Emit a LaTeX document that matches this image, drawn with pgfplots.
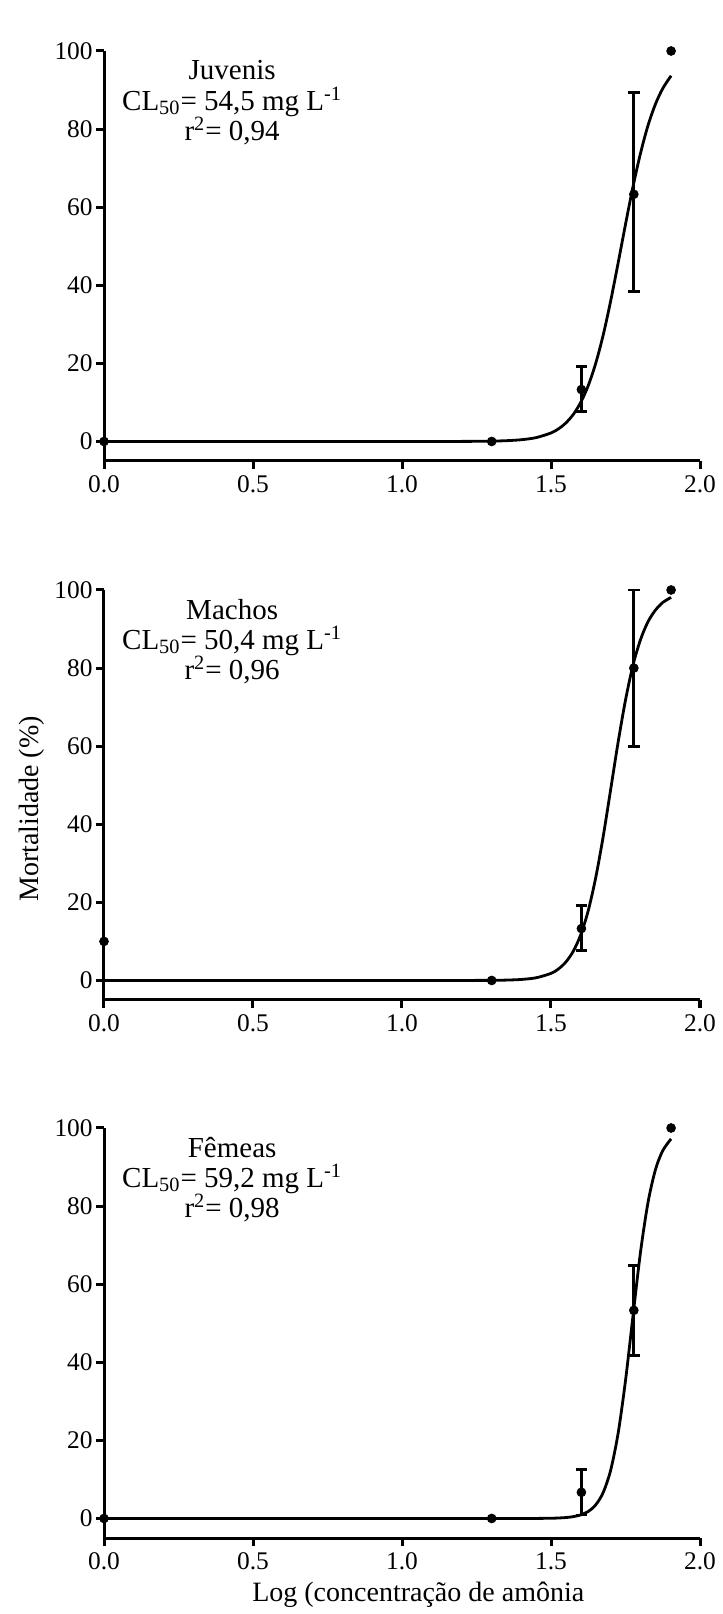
\documentclass[border=0pt]{standalone}
\usepackage{fontspec}
\setmainfont{Liberation Serif}
\usepackage{pgfplots}
\pgfplotsset{compat=1.18}

\pgfplotsset{
  myaxis/.style={
    scale only axis, width=298pt, height=205pt,
    xmin=0, xmax=2, ymin=-5, ymax=100,
    axis x line*=bottom, axis y line*=left,
    axis line style={line width=1.5pt, -},
    tick align=outside, major tick length=4pt,
    tick style={line width=1.5pt, black},
    xtick={0,0.5,1,1.5,2}, xticklabels={0.0,0.5,1.0,1.5,2.0},
    ytick={0,20,40,60,80,100}, yticklabels={0,20,40,60,80,100},
    tick label style={font=\fontsize{12.7}{14}\selectfont},
    yticklabel style={inner xsep=1.5pt},
    clip=false,
    anchor=south west,
  },
  fitline/.style={black, line width=1.4pt, smooth, no marks},
  errpts/.style={only marks, mark=*, mark size=2.2pt, black,
     error bars/.cd, y dir=both, y explicit,
     error bar style={line width=1.4pt, black},
     error mark options={rotate=90, mark size=2.9pt, line width=1.4pt, black}},
  pts/.style={only marks, mark=*, mark size=2.2pt, black},
}
\tikzset{annot/.style={font=\fontsize{14.5}{16}\selectfont}}

\begin{document}
\begin{tikzpicture}
\path[use as bounding box] (0,0) rectangle (361.5pt,807pt);

% ---------- Juvenis ----------
\begin{axis}[myaxis, at={(52pt,576.5pt)}]
\addplot[fitline] coordinates {
(0,0) (0.2,0) (0.4,0) (0.6,0) (0.8,0) (1.0,0.001) (1.1,0.004) (1.2,0.018) (1.25,0.04)
(1.3,0.089) (1.35,0.198) (1.4,0.443) (1.45,0.985) (1.5,2.18) (1.525,3.23)
(1.55,4.75) (1.575,6.94) (1.6,10.05) (1.625,14.32) (1.65,20.0) (1.675,27.2)
(1.7,35.9) (1.725,45.6) (1.75,55.6) (1.775,65.2) (1.8,73.7) (1.825,80.8)
(1.85,86.3) (1.875,90.4) (1.903,93.65)};
\addplot[pts] coordinates {(0,0) (1.301,0) (1.903,100)};
\addplot[errpts] coordinates {
(1.602,13.3) += (0,5.9) -= (0,5.7)
(1.778,63.3) += (0,26.0) -= (0,24.9)};
\node[annot] at (axis cs:0.43,95) {Juvenis};
\node[annot] at (axis cs:0.43,87) {CL\textsubscript{50}= 54,5 mg L\textsuperscript{-1}};
\node[annot] at (axis cs:0.43,79.5) {r\textsuperscript{2}= 0,94};
\end{axis}

% ---------- Machos ----------
\begin{axis}[myaxis, at={(52pt,307pt)},
  ylabel={Mortalidade (\%)},
  ylabel style={at={(axis description cs:-0.121,0.466)}, anchor=center, font=\fontsize{14}{16}\selectfont}]
\addplot[fitline] coordinates {
(0,0) (0.2,0) (0.4,0) (0.6,0) (0.8,0) (1.0,0.001) (1.1,0.004) (1.2,0.01) (1.25,0.02)
(1.3,0.036) (1.35,0.097) (1.4,0.259) (1.45,0.69) (1.5,1.82) (1.525,2.95)
(1.55,4.74) (1.575,7.52) (1.6,11.75) (1.625,17.9) (1.65,26.3) (1.675,36.8)
(1.7,48.8) (1.725,60.9) (1.75,71.8) (1.775,80.7) (1.8,87.2) (1.825,91.8)
(1.85,94.8) (1.875,96.8) (1.903,98.1)};
\addplot[pts] coordinates {(0,10) (1.301,0) (1.903,100)};
\addplot[errpts] coordinates {
(1.602,13.3) += (0,5.8) -= (0,5.7)
(1.778,80) += (0,20) -= (0,20)};
\node[annot] at (axis cs:0.43,95) {Machos};
\node[annot] at (axis cs:0.43,87) {CL\textsubscript{50}= 50,4 mg L\textsuperscript{-1}};
\node[annot] at (axis cs:0.43,79.5) {r\textsuperscript{2}= 0,96};
\end{axis}

% ---------- Femeas ----------
\begin{axis}[myaxis, at={(52pt,38pt)},
  xlabel={Log (concentração de amônia},
  xlabel style={at={(axis description cs:0.237,-0.154)}, anchor=base west, font=\fontsize{14}{16}\selectfont}]
\addplot[fitline] coordinates {
(0,0) (0.2,0) (0.4,0) (0.6,0) (0.8,0) (1.0,0) (1.1,0) (1.2,0) (1.3,0.001)
(1.4,0.004) (1.45,0.012) (1.5,0.061) (1.525,0.12) (1.55,0.238) (1.575,0.468) (1.6,0.918)
(1.625,1.80) (1.65,3.48) (1.675,6.64) (1.7,12.3) (1.725,21.7) (1.75,35.3)
(1.775,51.8) (1.8,68.0) (1.825,80.7) (1.85,89.2) (1.875,94.2) (1.903,97.2)};
\addplot[pts] coordinates {(0,0) (1.301,0) (1.903,100)};
\addplot[errpts] coordinates {
(1.602,6.7) += (0,5.8) -= (0,5.8)
(1.778,53.3) += (0,11.5) -= (0,11.6)};
\node[annot] at (axis cs:0.43,95) {Fêmeas};
\node[annot] at (axis cs:0.43,87) {CL\textsubscript{50}= 59,2 mg L\textsuperscript{-1}};
\node[annot] at (axis cs:0.43,79.5) {r\textsuperscript{2}= 0,98};
\end{axis}
\end{tikzpicture}
\end{document}
